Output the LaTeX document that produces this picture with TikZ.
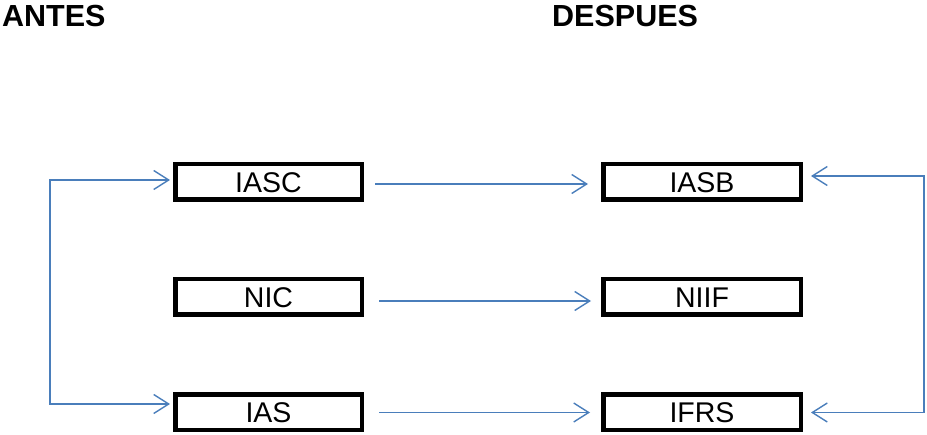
\documentclass[tikz,border=0pt]{standalone}
\usepackage{fontspec}
\setmainfont{Liberation Sans}
\usetikzlibrary{arrows.meta}
\definecolor{conn}{HTML}{4A7EBB}
\begin{document}
\begin{tikzpicture}[x=1pt,y=-1pt,
  box/.style={draw=black,line width=4.5pt,minimum height=35.5pt,inner sep=0pt,
    text height=20.5pt,text depth=0pt,font=\fontsize{28.5}{30}\selectfont},
  lbox/.style={box,minimum width=186.5pt},
  rbox/.style={box,minimum width=197.5pt},
  ttl/.style={anchor=base west,inner sep=0pt,font=\bfseries\fontsize{30.5}{32}\selectfont},
  arr/.style={draw=conn,line width=1.4pt,-{Straight Barb[length=15pt,width=19pt]}},
  darr/.style={draw=conn,line width=1.4pt,{Straight Barb[length=15pt,width=19pt]}-{Straight Barb[length=15pt,width=19pt]}}]
\useasboundingbox (0,0) rectangle (927,435);
\node[ttl] (antes) at (2,27) {ANTES};
\node[ttl] (despues) at (552,27) {DESPUES};
\node[lbox] (IASC) at (268.5,182) {IASC};
\node[lbox] (NIC) at (268.5,297) {NIC};
\node[lbox] (IAS) at (268.5,412.5) {IAS};
\node[rbox] (IASB) at (702,182) {IASB};
\node[rbox] (NIIF) at (702,297) {NIIF};
\node[rbox] (IFRS) at (702,412.5) {IFRS};
\coordinate (L) at (50,300);
\coordinate (R) at (924,300);
\draw[arr] ([xshift=11pt,yshift=-2pt]IASC.east) -- ([xshift=-13pt,yshift=-2pt]IASB.west);
\draw[arr] ([xshift=15pt,yshift=-4pt]NIC.east) -- ([xshift=-10pt,yshift=-4pt]NIIF.west);
\draw[arr] ([xshift=15pt,yshift=0pt]IAS.east) -- ([xshift=-11pt,yshift=0pt]IFRS.west);
\draw[darr] ([xshift=-3pt,yshift=8.5pt]IAS.west) -| (L) |- ([xshift=-3pt,yshift=2pt]IASC.west);
\draw[darr] ([xshift=8pt,yshift=0pt]IFRS.east) -| (R) |- ([xshift=8pt,yshift=6pt]IASB.east);
\end{tikzpicture}
\end{document}
